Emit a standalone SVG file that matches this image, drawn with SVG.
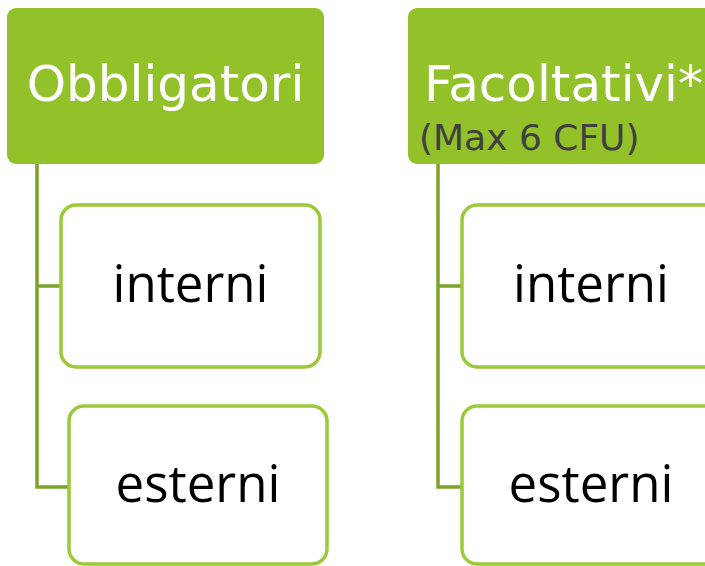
<svg xmlns="http://www.w3.org/2000/svg" width="705" height="566" viewBox="0 0 705 566">
<style>
.head{fill:#93C12A;}
.htxt{font-family:"DejaVu Sans",sans-serif;font-size:50px;fill:#ffffff;}
.sub{font-family:"DejaVu Sans",sans-serif;font-size:36px;fill:#404040;}
.child{fill:#ffffff;stroke:#9BC93A;stroke-width:3.5;}
.ctxt{font-family:"Open Sans","Noto Sans",sans-serif;font-size:51px;fill:#000000;text-anchor:middle;}
.conn{fill:none;stroke:#7BA32A;stroke-width:3.5;}
</style>
<rect width="705" height="566" fill="#ffffff"/>
<g id="connectors">
<path class="conn" d="M37,164 V487 H69 M37,286 H61"/>
<path class="conn" d="M438,164 V487 H462 M438,286 H462"/>
</g>
<g id="obbligatori">
<rect class="head" x="7" y="8" width="317" height="156" rx="9"/>
<text class="htxt" x="165.5" y="101" text-anchor="middle">Obbligatori</text>
</g>
<g id="facoltativi">
<rect class="head" x="408" y="8" width="317" height="156" rx="9"/>
<text class="htxt" x="424" y="101">Facoltativi*</text>
<text class="sub" x="419" y="150">(Max 6 CFU)</text>
</g>
<g id="obb-interni">
<rect class="child" x="61" y="205" width="259" height="162" rx="15"/>
<text class="ctxt" x="190.5" y="302">interni</text>
</g>
<g id="obb-esterni">
<rect class="child" x="69" y="406" width="258" height="158" rx="15"/>
<text class="ctxt" x="198" y="502">esterni</text>
</g>
<g id="fac-interni">
<rect class="child" x="462" y="205" width="258" height="162" rx="15"/>
<text class="ctxt" x="591" y="302">interni</text>
</g>
<g id="fac-esterni">
<rect class="child" x="462" y="406" width="258" height="158" rx="15"/>
<text class="ctxt" x="591" y="502">esterni</text>
</g>
</svg>
